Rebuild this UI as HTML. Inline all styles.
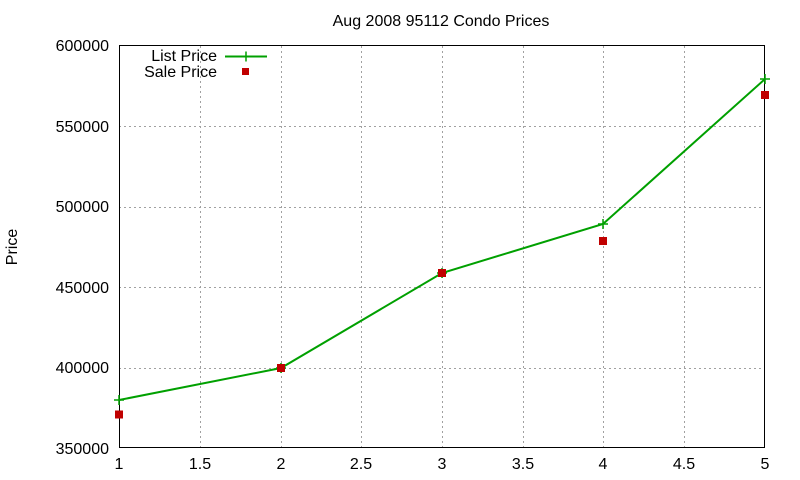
<!DOCTYPE html>
<html><head><style>body{margin:0;background:#fff}svg{display:block}text{font-family:"Liberation Sans",sans-serif;font-size:16px;fill:#000}</style></head>
<body>
<svg width="800" height="480" xmlns="http://www.w3.org/2000/svg">
<rect width="800" height="480" fill="#fff"/>
<g stroke="#a0a0a0" stroke-dasharray="2,3" stroke-width="1">
<line x1="119" y1="126.5" x2="765" y2="126.5"/>
<line x1="119" y1="207.5" x2="765" y2="207.5"/>
<line x1="119" y1="287.5" x2="765" y2="287.5"/>
<line x1="119" y1="368.5" x2="765" y2="368.5"/>
<line x1="200.5" y1="46" x2="200.5" y2="448"/>
<line x1="281.5" y1="46" x2="281.5" y2="448"/>
<line x1="361.5" y1="46" x2="361.5" y2="448"/>
<line x1="442.5" y1="46" x2="442.5" y2="448"/>
<line x1="523.5" y1="46" x2="523.5" y2="448"/>
<line x1="603.5" y1="46" x2="603.5" y2="448"/>
<line x1="684.5" y1="46" x2="684.5" y2="448"/>
</g>
<rect x="119.5" y="45.5" width="645" height="402" fill="none" stroke="#000"/>
<g text-anchor="end">
<text x="109" y="51">600000</text><text x="109" y="132">550000</text><text x="109" y="212">500000</text>
<text x="109" y="293">450000</text><text x="109" y="373">400000</text><text x="109" y="454">350000</text>
</g>
<g text-anchor="middle">
<text x="119" y="469">1</text><text x="200" y="469">1.5</text><text x="281" y="469">2</text><text x="361" y="469">2.5</text>
<text x="442" y="469">3</text><text x="523" y="469">3.5</text><text x="603" y="469">4</text><text x="684" y="469">4.5</text><text x="765" y="469">5</text>
<text x="441" y="26">Aug 2008 95112 Condo Prices</text>
</g>
<text x="17" y="247" text-anchor="middle" transform="rotate(-90 17 247)">Price</text>
<text x="217" y="61" text-anchor="end">List Price</text>
<text x="217" y="77" text-anchor="end">Sale Price</text>
<line x1="225" y1="56.5" x2="267" y2="56.5" stroke="#00a000" stroke-width="2"/>
<path d="M241 56.5h10M246 51.5v10" stroke="#00a000" stroke-width="1.5"/>
<rect x="242" y="68" width="7" height="7" fill="#c00000"/>
<polyline points="119,400 281,368 442,273 603,224 765,79" fill="none" stroke="#00a000" stroke-width="2"/>
<g stroke="#00a000" stroke-width="1.5">
<path d="M114 400h10M119 395v10"/><path d="M276 368h10M281 363v10"/><path d="M437 273h10M442 268v10"/>
<path d="M598 224h10M603 219v10"/><path d="M760 79h10M765 74v10"/>
</g>
<g fill="#c00000">
<rect x="115" y="410.5" width="8" height="8"/><rect x="277" y="364" width="8" height="8"/>
<rect x="438" y="269" width="8" height="8"/><rect x="599" y="237" width="8" height="8"/>
<rect x="761" y="91" width="8" height="8"/>
</g>
</svg>
</body></html>
